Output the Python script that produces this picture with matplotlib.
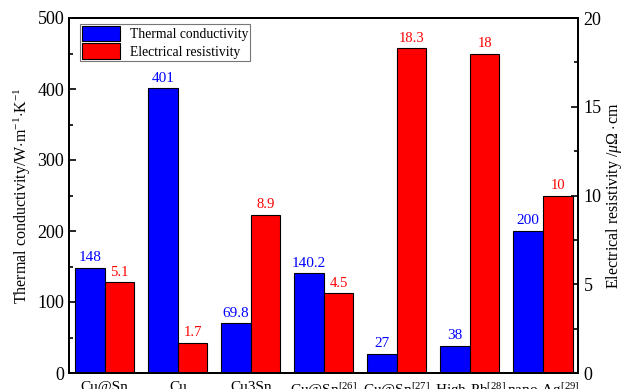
import numpy as np
import matplotlib
matplotlib.use("Agg")
import matplotlib.pyplot as plt
from matplotlib.ticker import MultipleLocator

# data
materials = ["Cu@Sn", "Cu", "Cu3Sn", "Cu@Sn$^{[26]}$", "Cu@Sn$^{[27]}$",
             "High-Pb$^{[28]}$", "nano-Ag$^{[29]}$"]
thermal = [148, 401, 69.8, 140.2, 27, 38, 200]
resist = [5.1, 1.7, 8.9, 4.5, 18.3, 18, 10]
thermal_txt = ["148", "401", "69.8", "140.2", "27", "38", "200"]
resist_txt = ["5.1", "1.7", "8.9", "4.5", "18.3", "18", "10"]

plt.rcParams.update({
    "font.family": "Liberation Serif",
    "mathtext.fontset": "custom",
    "mathtext.rm": "Liberation Serif",
    "mathtext.it": "Liberation Serif:italic",
    "xtick.direction": "in",
    "ytick.direction": "in",
})

fig = plt.figure(figsize=(6.22, 3.89), dpi=100)
ax = fig.add_axes([69 / 622, 16 / 389, (578 - 69) / 622, (373 - 18) / 389])
ax2 = ax.twinx()

x = np.arange(len(materials))
w = 0.405

b1 = ax.bar(x - w / 2, thermal, w, color="#0000ff", edgecolor="black",
            linewidth=0.8, zorder=2)
b2 = ax2.bar(x + w / 2, resist, w, color="#ff0000", edgecolor="black",
             linewidth=0.8, zorder=2)

for xi, v, t in zip(x, thermal, thermal_txt):
    ax.text(xi - w / 2, v + 5, t, ha="center", va="bottom", color="#0000ff",
            fontsize=11)
for xi, v, t in zip(x, resist, resist_txt):
    ax2.text(xi + w / 2, v + 0.2, t, ha="center", va="bottom", color="#ff0000",
             fontsize=10.5)

ax.set_xlim(-0.49, 6.48)
ax.set_ylim(0, 500)
ax2.set_ylim(0, 20)
ax.set_xticks(x)
ax.set_xticklabels(materials, fontsize=11)
ax.tick_params(axis="x", length=0, pad=6)
ax.yaxis.set_major_locator(MultipleLocator(100))
ax.yaxis.set_minor_locator(MultipleLocator(50))
ax2.yaxis.set_major_locator(MultipleLocator(5))
ax2.yaxis.set_minor_locator(MultipleLocator(2.5))
for a in (ax, ax2):
    a.tick_params(axis="y", which="major", length=5, width=1.2, labelsize=13)
    a.tick_params(axis="y", which="minor", length=3, width=1.2)
    for s in a.spines.values():
        s.set_linewidth(1.4)
ax2.tick_params(axis="y", which="major", pad=4)

ax.set_ylabel("Thermal conductivity/W$\\cdot$m$^{-1}$$\\cdot$K$^{-1}$",
              fontsize=11.5, labelpad=3)
ax2.set_ylabel("Electrical resistivity /$\\mu\\Omega\\cdot$cm", fontsize=11.5,
               labelpad=2)

leg = ax.legend([b1, b2], ["Thermal conductivity", "Electrical resistivity"],
                loc="upper left", bbox_to_anchor=(11 / 509, 1 - 6 / 355),
                fontsize=9.8, frameon=True, fancybox=False,
                edgecolor="#555555", handlelength=2.8, handleheight=1.35,
                borderpad=0.15, labelspacing=0.15, handletextpad=0.7,
                borderaxespad=0.0)
leg.get_frame().set_linewidth(0.8)

fig.savefig("out.png", dpi=100)
